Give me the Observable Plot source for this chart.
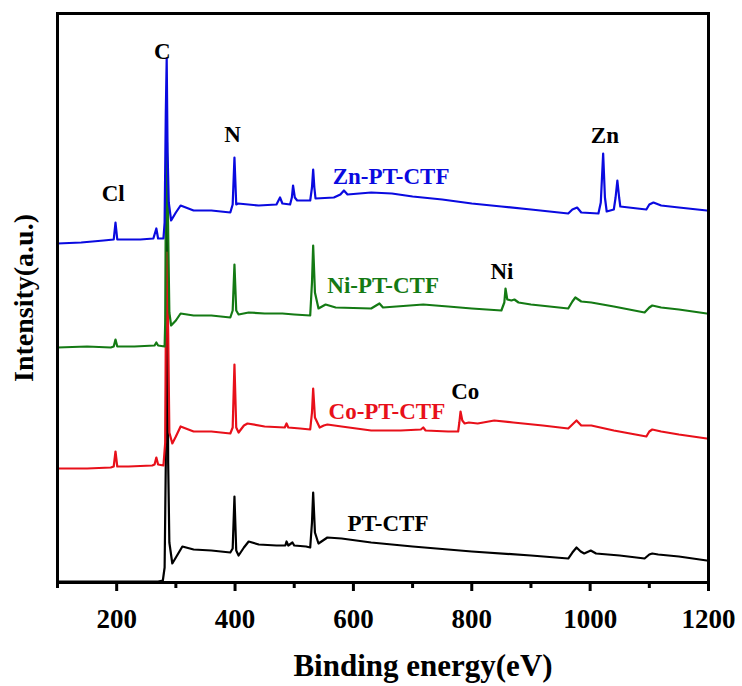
<!DOCTYPE html>
<html>
<head>
<meta charset="utf-8">
<script src="https://cdn.jsdelivr.net/npm/d3@7"></script>
<script src="https://cdn.jsdelivr.net/npm/@observablehq/plot@0.6"></script>
<style>
  html, body { margin: 0; padding: 0; background: #fff; }
  #chart svg text { font-family: 'Liberation Serif', 'Times New Roman', serif; font-weight: bold; }
</style>
</head>
<body>
<div id="chart"></div>
<script>
// ---- data (binding energy eV, intensity in arbitrary offset units) ----
const seriesNames = ["PT-CTF", "Co-PT-CTF", "Ni-PT-CTF", "Zn-PT-CTF"];
const seriesColors = ["#000000", "#e8101a", "#147a14", "#0a0ae0"];

const ptCtf = [[100,1],[180,1],[270,1],[278,2],[281,15],[283,120],[285,420],[287,120],[289,40],[294,19],[300,25],[311,36],[330,33],[360,32],[392,30],[396,34],[399,86],[402,32],[406,27],[415,35],[423,41],[440,38],[470,37],[485,37],[487,41],[490,37],[497,40],[500,37],[520,36],[527,35],[530,60],[532,90],[535,50],[541,39],[556,45],[580,44],[630,40],[700,36],[800,31],[900,27],[963,24],[970,30],[977,35],[984,31],[990,29],[1001,32],[1010,29],[1050,27],[1092,24],[1100,28],[1105,29],[1115,28],[1150,26],[1197,22],[1200,22]];

const coPtCtf = [[100,114],[150,114],[190,115],[195,116],[198,131],[201,116],[220,116],[260,117],[264,118],[267,125],[270,118],[279,117],[282,140],[283,250],[285,330],[287,250],[289,150],[294,139],[300,146],[308,156],[330,151],[360,151],[392,149],[396,155],[399,218],[402,155],[406,150],[415,157],[421,159],[450,156],[484,155],[487,159],[490,155],[510,154],[527,153],[530,170],[532,194],[535,165],[543,155],[550,157],[556,158],[580,156],[630,152],[680,152],[714,153],[718,155],[722,152],[760,151],[777,151],[779,160],[781,171],[784,162],[788,159],[795,160],[810,159],[838,162],[870,160],[920,157],[963,154],[970,158],[977,162],[985,157],[1002,157],[1040,152],[1095,146],[1100,151],[1105,153],[1120,151],[1150,148],[1197,144],[1200,144]];

const niPtCtf = [[100,235],[150,236],[190,235],[195,236],[198,243],[201,236],[230,236],[264,237],[267,240],[270,237],[281,236],[282,260],[283,380],[285,440],[287,350],[289,270],[292,257],[300,262],[308,269],[330,267],[360,267],[392,265],[396,272],[399,318],[402,272],[406,268],[423,270],[450,269],[480,269],[500,268],[527,267],[530,300],[532,337],[535,290],[541,274],[553,278],[570,275],[630,274],[644,279],[650,275],[718,278],[760,276],[800,274],[850,272],[855,280],[857,294],[860,283],[867,282],[872,283],[879,280],[900,278],[963,274],[970,281],[975,285],[985,281],[1002,280],[1040,276],[1092,270],[1100,275],[1105,277],[1120,275],[1150,273],[1197,269],[1200,269]];

const znPtCtf = [[100,339],[140,340],[178,342],[195,343],[198,360],[201,343],[240,343],[262,344],[267,354],[270,344],[279,344],[281,360],[283,470],[284.5,524],[286,430],[288,380],[292,362],[300,370],[308,377],[330,372],[360,372],[392,370],[396,378],[399,425],[402,378],[405,379],[440,377],[470,378],[476,385],[480,379],[493,378],[496,385],[498,397],[501,385],[505,382],[527,382],[530,395],[532,413],[534,395],[536,384],[567,385],[578,388],[584,392],[590,388],[630,390],[665,389],[700,386],[750,383],[800,379],[850,376],[900,373],[963,369],[970,373],[978,375],[985,370],[1014,369],[1018,380],[1022,429],[1025,385],[1028,371],[1040,373],[1043,385],[1046,402],[1049,385],[1051,376],[1080,374],[1095,373],[1100,378],[1107,380],[1120,377],[1150,375],[1197,372],[1200,372]];

// series name labels: [text, energy at text start, intensity at baseline]
const seriesLabels = [["PT-CTF",590,52],["Co-PT-CTF",558,164],["Ni-PT-CTF",556,290],["Zn-PT-CTF",565,399]];
// element annotations: [text, energy (centre), intensity at baseline]
const elementLabels = [["C",277,524],["N",396,441],["Cl",194,382],["Zn",1025,440],["Ni",851,304],["Co",789,184]];

const majorTicks = [200, 400, 600, 800, 1000, 1200];
const minorTicks = [100, 300, 500, 700, 900, 1100];
const xTitle = "Binding energy(eV)";
const yTitle = "Intensity(a.u.)";

// ---- build table ----
const allSeries = [ptCtf, coPtCtf, niPtCtf, znPtCtf];
const table = allSeries.flatMap((pts, i) => pts.map(([e, v]) => ({series: seriesNames[i], e, v})));
const sLabels = seriesLabels.map(([t, e, v]) => ({t, e, v}));
const eLabels = elementLabels.map(([t, e, v]) => ({t, e, v}));

const serif = "'Liberation Serif', 'Times New Roman', serif";

const chart = Plot.plot({
  width: 742,
  height: 686,
  marginLeft: 57,
  marginRight: 34,
  marginTop: 13,
  marginBottom: 104,
  style: {fontFamily: serif, fontWeight: "bold", background: "#fff", color: "#000"},
  x: {domain: [100, 1200]},
  y: {domain: [0, 569], axis: null},
  color: {domain: seriesNames, range: seriesColors},
  marks: [
    Plot.line(table, {x: "e", y: "v", z: "series", stroke: "series", strokeWidth: 2.2, curve: "linear"}),
    Plot.axisX({ticks: minorTicks, tickSize: 6, strokeWidth: 3, tickFormat: () => "", label: null}),
    Plot.axisX({ticks: majorTicks, tickSize: 9, strokeWidth: 3, tickPadding: 17, fontSize: 27, fontFamily: serif, fontWeight: "bold", tickFormat: d => String(d), label: null}),
    Plot.frame({strokeWidth: 3, stroke: "#000"}),
    Plot.text(sLabels, {x: "e", y: "v", text: "t", fill: (d) => d.t, textAnchor: "start", lineAnchor: "bottom", fontSize: 23, fontWeight: "bold"}),
    Plot.text(eLabels, {x: "e", y: "v", text: "t", fill: "#000", textAnchor: "middle", lineAnchor: "bottom", fontSize: 23, fontWeight: "bold"}),
    Plot.text([xTitle], {frameAnchor: "bottom", textAnchor: "middle", dx: 40, dy: 93, lineAnchor: "bottom", fontSize: 31, fontWeight: "bold", fill: "#000"}),
    Plot.text([yTitle], {frameAnchor: "left", textAnchor: "middle", dx: -33, rotate: -90, lineAnchor: "middle", fontSize: 28, fontWeight: "bold", fill: "#000"})
  ]
});
document.getElementById("chart").appendChild(chart);
</script>
</body>
</html>
